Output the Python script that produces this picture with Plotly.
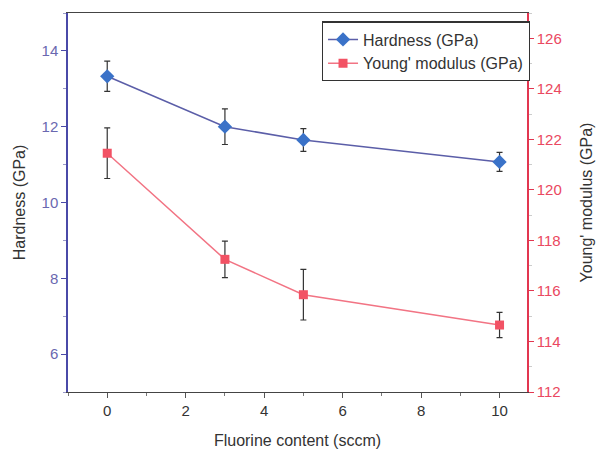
import plotly.graph_objects as go

fluorine = [0, 3, 5, 10]
hardness = [13.33, 12.0, 11.65, 11.07]
hardness_err = [0.4, 0.47, 0.3, 0.25]
young = [121.45, 117.25, 115.85, 114.65]
young_err = [1.0, 0.72, 1.0, 0.5]

x_ticks = [0, 2, 4, 6, 8, 10]
left_ticks = [6, 8, 10, 12, 14]
right_ticks = [112, 114, 116, 118, 120, 122, 124, 126]

FONT = "Liberation Sans, Arial, sans-serif"
BLUE_AX = "#4a4aa8"
RED_AX = "#e23650"

fig = go.Figure()
fig.add_trace(go.Scatter(
    x=fluorine, y=hardness, name="Hardness (GPa)", mode="lines+markers",
    line=dict(color="#5b5ea8", width=1.5),
    marker=dict(symbol="diamond", size=11, color="#3a72c8", line=dict(width=0)),
    error_y=dict(type="data", array=hardness_err, color="#333333", thickness=1.2, width=3),
    yaxis="y",
))
fig.add_trace(go.Scatter(
    x=fluorine, y=young, name="Young' modulus (GPa)", mode="lines+markers",
    line=dict(color="#f27484", width=1.5),
    marker=dict(symbol="square", size=9, color="#f25264", line=dict(width=0)),
    error_y=dict(type="data", array=young_err, color="#333333", thickness=1.2, width=3),
    yaxis="y2",
))

fig.update_layout(
    width=602, height=450,
    margin=dict(l=68, r=75, t=13, b=58),
    plot_bgcolor="white", paper_bgcolor="white",
    font=dict(family=FONT, size=14, color="#333333"),
    showlegend=True,
    legend=dict(x=0.553, y=0.978, xanchor="left", yanchor="top",
                bordercolor="#333333", borderwidth=1.2, bgcolor="white",
                font=dict(size=16, color="#333333"), tracegroupgap=0,
                itemwidth=30),
    xaxis=dict(
        range=[-1, 10.7], tickvals=x_ticks, ticks="outside", ticklen=5,
        tickcolor="#555555", showline=True, linecolor="#444444", linewidth=1.2,
        mirror=True, showgrid=False, zeroline=False, automargin=False,
        minor=dict(dtick=1, ticks="outside", ticklen=3, tickcolor="#777777"),
        title=dict(text="Fluorine content (sccm)", font=dict(size=16, color="#333333"), standoff=16),
        tickfont=dict(size=15, color="#333333"),
    ),
    yaxis=dict(
        range=[5, 15], tickvals=left_ticks, ticks="outside", ticklen=5,
        tickcolor=BLUE_AX, showline=True, linecolor=BLUE_AX, linewidth=1.5,
        showgrid=False, zeroline=False, automargin=False,
        minor=dict(dtick=1, ticks="outside", ticklen=3, tickcolor="#9a9ac8"),
        title=dict(text="Hardness (GPa)", font=dict(size=16, color="#333333"), standoff=12),
        tickfont=dict(size=15, color="#6a68b0"),
    ),
    yaxis2=dict(
        range=[112, 127], tickvals=right_ticks, ticks="outside", ticklen=5,
        tickcolor=RED_AX, showline=True, linecolor=RED_AX, linewidth=1.5,
        overlaying="y", side="right", showgrid=False, zeroline=False, automargin=False,
        minor=dict(dtick=1, ticks="outside", ticklen=3, tickcolor="#cccccc"),
        title=dict(text="Young' modulus (GPa)", font=dict(size=16, color="#333333"), standoff=20),
        tickfont=dict(size=15, color="#ea4860"),
    ),
)

fig.write_html("out.html")
